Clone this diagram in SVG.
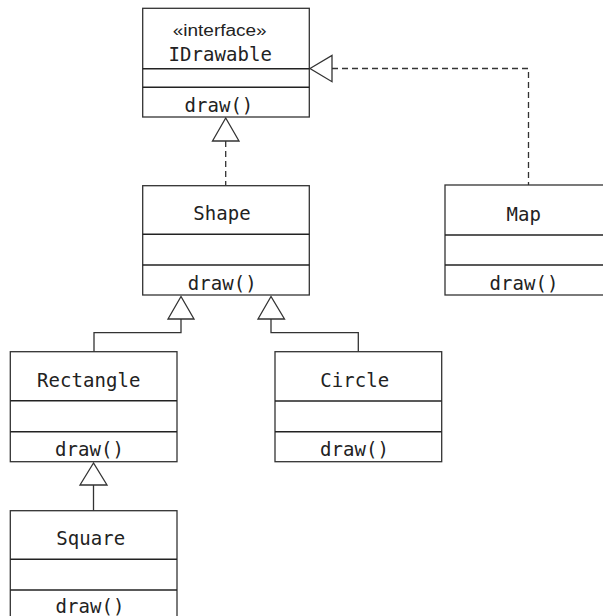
<svg xmlns="http://www.w3.org/2000/svg" width="603" height="616" viewBox="0 0 603 616">
<style>
.box{fill:#fff;stroke:#333;stroke-width:1.3}
.sep{stroke:#222;stroke-width:1.6}
.t{font-family:"DejaVu Sans Mono","Liberation Mono",monospace;font-size:19px;letter-spacing:0.05px;fill:#222;text-anchor:middle}
.st{font-family:"Liberation Sans","DejaVu Sans",sans-serif;font-size:16px;fill:#222;text-anchor:middle}
.ln{fill:none;stroke:#333;stroke-width:1.3}
.dash{fill:none;stroke:#333;stroke-width:1.3;stroke-dasharray:6 4}
.tri{fill:#fff;stroke:#333;stroke-width:1.3}
</style>
<rect width="603" height="616" fill="#fff"/>
<g id="connectors">
<path class="dash" d="M225.7,141 V185.7"/>
<path class="dash" d="M332,68.5 H528.5 V185"/>
<path class="ln" d="M181,319 V332.7 H94 V352"/>
<path class="ln" d="M271,319 V332.7 H358.3 V352"/>
<path class="ln" d="M93.5,485 V511"/>
<polygon class="tri" points="225.7,118 212.5,141 239,141"/>
<polygon class="tri" points="310,68.5 332,55.5 332,81.7"/>
<polygon class="tri" points="181,296.5 168,319 194,319"/>
<polygon class="tri" points="271,296.5 258,319 284.5,319"/>
<polygon class="tri" points="93.5,463 80,485 107,485"/>
</g>
<g id="IDrawable">
<rect class="box" x="142.7" y="8.3" width="166.6" height="108.7"/>
<line class="sep" x1="142.7" y1="68.7" x2="309.3" y2="68.7"/>
<line class="sep" x1="142.7" y1="87.3" x2="309.3" y2="87.3"/>
<text class="st" x="219.7" y="36" textLength="94" lengthAdjust="spacingAndGlyphs">«interface»</text>
<text class="t" x="220.2" y="61">IDrawable</text>
<text class="t" x="218.9" y="112">draw()</text>
</g>
<g id="Shape">
<rect class="box" x="142.7" y="185.7" width="166.6" height="109.3"/>
<line class="sep" x1="142.7" y1="234.3" x2="309.3" y2="234.3"/>
<line class="sep" x1="142.7" y1="265" x2="309.3" y2="265"/>
<text class="t" x="222" y="219.5">Shape</text>
<text class="t" x="222.2" y="290">draw()</text>
</g>
<g id="Map">
<rect class="box" x="445" y="185" width="167" height="110"/>
<line class="sep" x1="445" y1="235" x2="612" y2="235"/>
<line class="sep" x1="445" y1="265" x2="612" y2="265"/>
<text class="t" x="523.7" y="221">Map</text>
<text class="t" x="524" y="290">draw()</text>
</g>
<g id="Rectangle">
<rect class="box" x="10.3" y="351.7" width="166.7" height="110"/>
<line class="sep" x1="10.3" y1="400.7" x2="177" y2="400.7"/>
<line class="sep" x1="10.3" y1="431.7" x2="177" y2="431.7"/>
<text class="t" x="88.7" y="386.7">Rectangle</text>
<text class="t" x="89.5" y="456">draw()</text>
</g>
<g id="Circle">
<rect class="box" x="275" y="351.7" width="166.7" height="110"/>
<line class="sep" x1="275" y1="401" x2="441.7" y2="401"/>
<line class="sep" x1="275" y1="431.7" x2="441.7" y2="431.7"/>
<text class="t" x="354.7" y="386.7">Circle</text>
<text class="t" x="354.5" y="456">draw()</text>
</g>
<g id="Square">
<rect class="box" x="10.3" y="510.7" width="166.7" height="110"/>
<line class="sep" x1="10.3" y1="559.3" x2="177" y2="559.3"/>
<line class="sep" x1="10.3" y1="590" x2="177" y2="590"/>
<text class="t" x="90.8" y="545">Square</text>
<text class="t" x="90" y="613">draw()</text>
</g>
</svg>
